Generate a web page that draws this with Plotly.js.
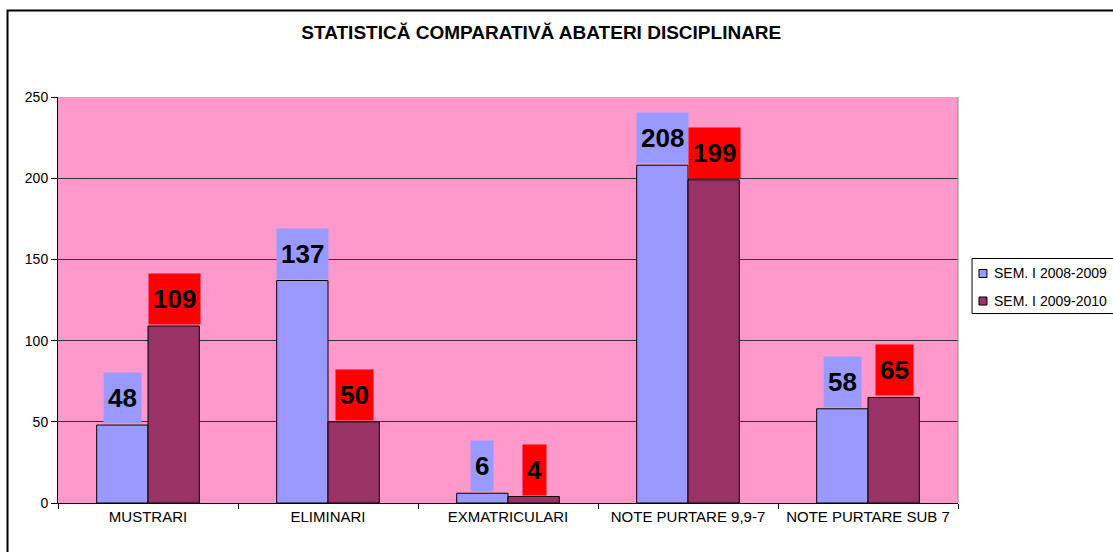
<!DOCTYPE html>
<html>
<head>
<meta charset="utf-8">
<script src="https://cdn.plot.ly/plotly-3.0.1.min.js"></script>
<style>html,body{margin:0;padding:0;background:#fff;}#chart{width:1113px;height:552px;}</style>
</head>
<body>
<div id="chart"></div>
<script>
const categories = ["MUSTRARI", "ELIMINARI", "EXMATRICULARI", "NOTE PURTARE 9,9-7", "NOTE PURTARE SUB 7"];
const seriesNames = ["SEM. I 2008-2009", "SEM. I 2009-2010"];
const sem2008 = [48, 137, 6, 208, 58];
const sem2009 = [109, 50, 4, 199, 65];
const titleText = "STATISTICĂ COMPARATIVĂ ABATERI DISCIPLINARE";

const barColors = ["#9999FF", "#993366"];
const labelBg = ["#9999FF", "#FF0000"];
const allSeries = [sem2008, sem2009];

const traces = allSeries.map((vals, s) => ({
  type: "bar",
  name: seriesNames[s],
  x: categories,
  y: vals,
  marker: {color: barColors[s], line: {color: "#000000", width: 1}},
  showlegend: false,
  hoverinfo: "skip"
}));

const annotations = [];
allSeries.forEach((vals, s) => {
  vals.forEach((v, i) => {
    annotations.push({
      x: categories[i], y: v, xref: "x", yref: "y",
      text: String(v), showarrow: false,
      xanchor: "center", yanchor: "bottom",
      xshift: s === 0 ? -26 : 26, yshift: 1,
      bgcolor: labelBg[s], borderpad: 4, height: 42,
      font: {family: "'Liberation Sans Narrow', 'Arial Narrow', 'Liberation Sans', Arial, sans-serif", size: 26, color: "#000000", weight: "bold"}
    });
  });
});

// legend (box outside the plot, clipped by the page edge as in the reference)
const shapes = [
  {type: "rect", xref: "paper", yref: "paper", x0: -0.0561, x1: 1.3, y0: -0.3, y1: 1.2131,
   line: {color: "#000000", width: 2}, fillcolor: "rgba(0,0,0,0)", layer: "below"},
  {type: "line", xref: "paper", yref: "paper", x0: 1, x1: 1, y0: 0, y1: 1,
   line: {color: "#888888", width: 1}},
  {type: "rect", xref: "paper", yref: "paper", x0: 1.0156, x1: 1.3, y0: 0.4667, y1: 0.6022,
   line: {color: "#000000", width: 1}, fillcolor: "#FFFFFF"}
];
const legendRows = [0.5653, 0.4975];
seriesNames.forEach((name, s) => {
  const yc = legendRows[s];
  shapes.push({type: "rect", xref: "paper", yref: "paper",
    x0: 1.0233, x1: 1.0322, y0: yc - 0.0099, y1: yc + 0.0099,
    line: {color: "#000000", width: 1}, fillcolor: barColors[s]});
  annotations.push({xref: "paper", yref: "paper", x: 1.0378, y: yc,
    xanchor: "left", yanchor: "middle", text: name, showarrow: false,
    font: {size: 14, color: "#000000"}});
});

const layout = {
  width: 1113, height: 552,
  margin: {l: 58, r: 155, t: 97, b: 49, autoexpand: false},
  paper_bgcolor: "#FFFFFF",
  plot_bgcolor: "#FF99CC",
  font: {family: "'Liberation Sans', Arial, sans-serif", color: "#000000"},
  showlegend: false,
  title: {
    text: "<b>" + titleText + "</b>",
    x: 0.537, xref: "paper", xanchor: "center",
    y: 0.942, yref: "container", yanchor: "middle",
    font: {family: "'Liberation Sans Narrow', 'Arial Narrow', 'Liberation Sans', Arial, sans-serif", size: 19, color: "#000000"}
  },
  barmode: "group",
  bargap: 0.43,
  bargroupgap: 0,
  xaxis: {
    type: "category",
    showline: true, linecolor: "#000000", linewidth: 1,
    ticks: "outside", tickson: "boundaries", ticklen: 5, tickcolor: "#000000",
    tickfont: {size: 15, color: "#000000"},
    showgrid: false, fixedrange: true, automargin: false
  },
  yaxis: {
    range: [0, 250], dtick: 50, tick0: 0,
    showline: true, linecolor: "#000000", linewidth: 1,
    ticks: "outside", ticklen: 6, tickcolor: "#000000",
    tickfont: {size: 14, color: "#000000"},
    showgrid: true, gridcolor: "#333333", gridwidth: 1,
    zeroline: false, fixedrange: true, automargin: false
  },
  annotations: annotations,
  shapes: shapes
};

Plotly.newPlot("chart", traces, layout, {displayModeBar: false, staticPlot: true});
</script>
</body>
</html>
